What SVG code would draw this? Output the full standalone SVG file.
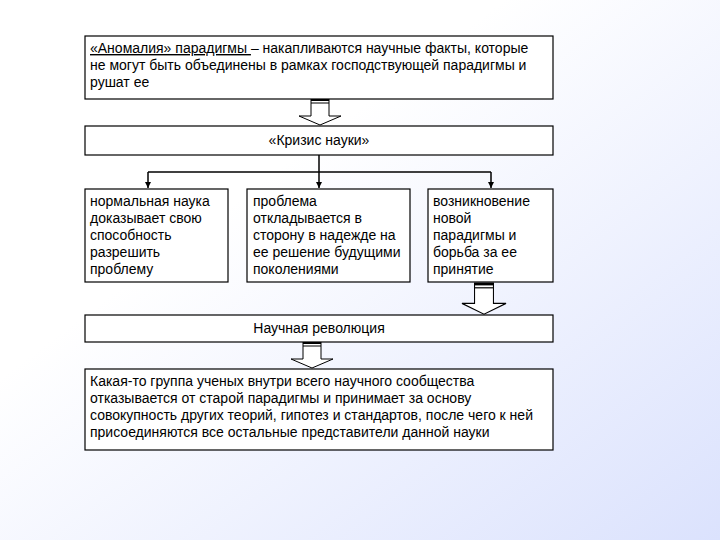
<svg xmlns="http://www.w3.org/2000/svg" width="720" height="540" viewBox="0 0 720 540">
<defs>
<linearGradient id="bg" x1="0" y1="0" x2="1" y2="1">
<stop offset="0" stop-color="#ffffff"/>
<stop offset="0.35" stop-color="#ffffff"/>
<stop offset="1" stop-color="#dbe2fd"/>
</linearGradient>
<marker id="ah" viewBox="0 0 10 10" refX="10" refY="5" markerWidth="6" markerHeight="6" markerUnits="userSpaceOnUse" orient="auto">
<path d="M0,0 L10,5 L0,10 z" fill="#000"/>
</marker>
<g id="blockarrow">
<path d="M-9,0 L9,0 L9,17 L21,17 L0,26 L-21,17 L-9,17 Z" fill="#fff" stroke="#000" stroke-width="1"/>
<line x1="-9" y1="1" x2="9" y2="1" stroke="#000" stroke-width="2"/>
<line x1="-9" y1="4" x2="9" y2="4" stroke="#000" stroke-width="1"/>
</g>
</defs>
<style>
.box{fill:#fff;stroke:#000;stroke-width:1.2}
.t{font-family:"Liberation Sans",Arial,sans-serif;font-size:14px;fill:#000}
.c{stroke:#000;stroke-width:1.5;fill:none}
</style>
<rect width="720" height="540" fill="url(#bg)"/>

<g id="connectors">
<use href="#blockarrow" x="320" y="99"/>
<path class="c" d="M319,155 V172"/>
<path class="c" d="M148,172 H491"/>
<path class="c" d="M148,172 V188" marker-end="url(#ah)"/>
<path class="c" d="M319,172 V188" marker-end="url(#ah)"/>
<path class="c" d="M491,172 V188" marker-end="url(#ah)"/>
<use href="#blockarrow" x="484" y="288" transform="translate(484,283) scale(1.05,1.2) translate(-484,-288)"/>
<use href="#blockarrow" x="312" y="342"/>
</g>

<g id="anomaly">
<rect class="box" x="85" y="36" width="468" height="63"/>
<text class="t" x="90" y="53"><tspan text-decoration="underline">«Аномалия» парадигмы </tspan>– накапливаются научные факты, которые</text>
<text class="t" x="90" y="70">не могут быть объединены в рамках господствующей парадигмы и</text>
<text class="t" x="90" y="87">рушат ее</text>
</g>

<g id="crisis">
<rect class="box" x="85" y="126" width="468" height="29"/>
<text class="t" x="319" y="145" text-anchor="middle">«Кризис науки»</text>
</g>

<g id="normal">
<rect class="box" x="85" y="189" width="143" height="93"/>
<text class="t" x="90" y="206">нормальная наука</text>
<text class="t" x="90" y="223">доказывает свою</text>
<text class="t" x="90" y="240">способность</text>
<text class="t" x="90" y="257">разрешить</text>
<text class="t" x="90" y="274">проблему</text>
</g>

<g id="postpone">
<rect class="box" x="247" y="189" width="163" height="93"/>
<text class="t" x="253" y="206">проблема</text>
<text class="t" x="253" y="223">откладывается в</text>
<text class="t" x="253" y="240">сторону в надежде на</text>
<text class="t" x="253" y="257">ее решение будущими</text>
<text class="t" x="253" y="274">поколениями</text>
</g>

<g id="newparadigm">
<rect class="box" x="428" y="189" width="125" height="93"/>
<text class="t" x="433" y="206">возникновение</text>
<text class="t" x="433" y="223">новой</text>
<text class="t" x="433" y="240">парадигмы и</text>
<text class="t" x="433" y="257">борьба за ее</text>
<text class="t" x="433" y="274">принятие</text>
</g>

<g id="revolution">
<rect class="box" x="85" y="315" width="468" height="27"/>
<text class="t" x="319" y="333" text-anchor="middle">Научная революция</text>
</g>

<g id="result">
<rect class="box" x="85" y="369" width="468" height="81"/>
<text class="t" x="90" y="386">Какая-то группа ученых внутри всего научного сообщества</text>
<text class="t" x="90" y="403">отказывается от старой парадигмы и принимает за основу</text>
<text class="t" x="90" y="420">совокупность других теорий, гипотез и стандартов, после чего к ней</text>
<text class="t" x="90" y="437">присоединяются все остальные представители данной науки</text>
</g>
</svg>
